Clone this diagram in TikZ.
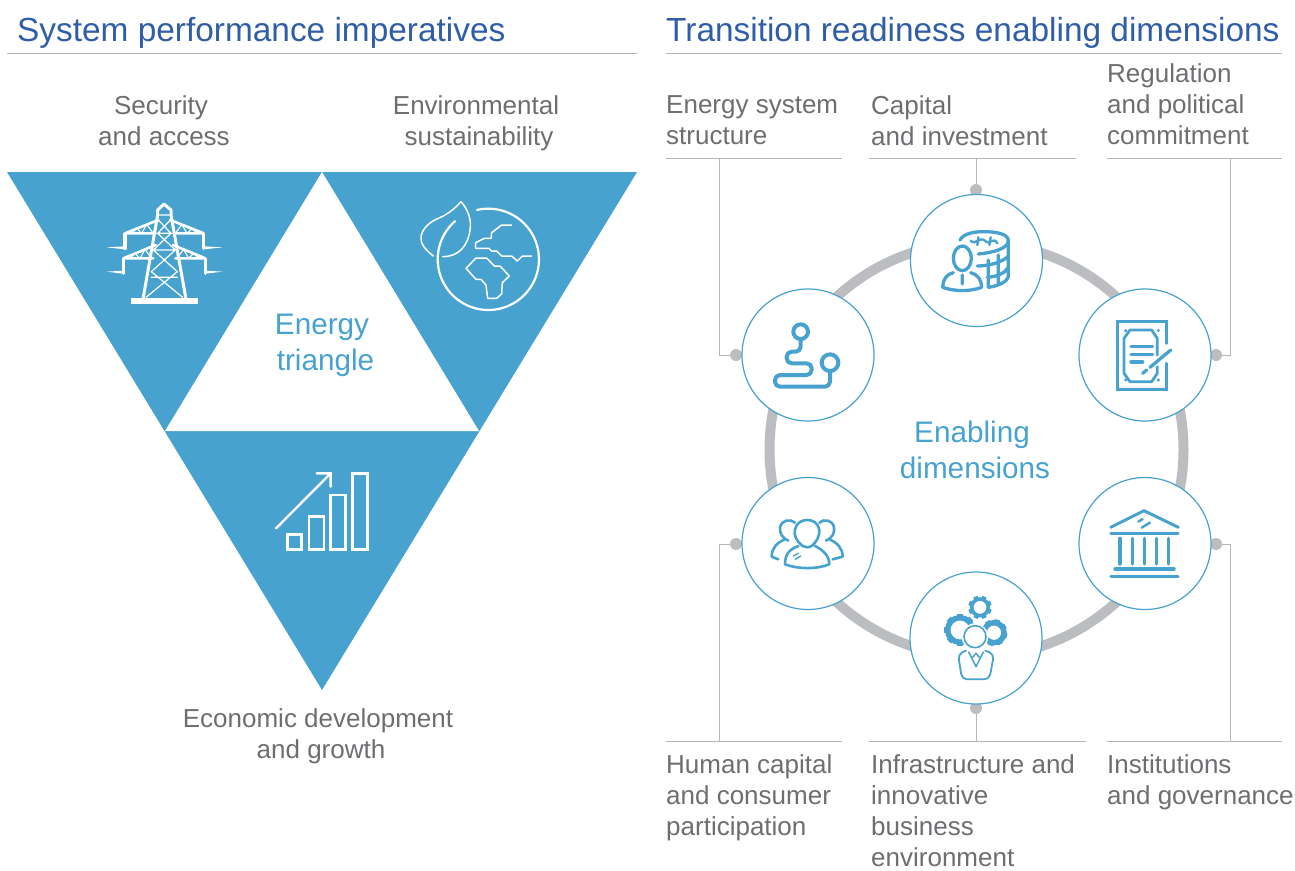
\documentclass[tikz,border=0pt]{standalone}
\usepackage{fontspec}
\setmainfont{Liberation Sans}
\usepackage{xcolor}
\usetikzlibrary{positioning, calc}

\definecolor{triblue}{HTML}{47A2D0}
\definecolor{headblue}{HTML}{2F5DA8}
\definecolor{textgray}{HTML}{6D6E71}
\definecolor{ringgray}{HTML}{BCBDC0}
\definecolor{rulegray}{HTML}{B5B6B8}

\tikzset{
  headline/.style={anchor=base west, inner sep=0pt, text=headblue, font=\fontsize{33.4}{38}\selectfont},
  lbl/.style={inner sep=0pt, align=left, anchor=north west, text=textgray, execute at begin node=\strut, font=\fontsize{26}{31.3}\selectfont},
  lblc/.style={lbl, align=center, anchor=north},
  midlbl/.style={lblc, text=triblue, font=\fontsize{29.7}{35.6}\selectfont},
  badge/.style={circle, draw=triblue, line width=1.2pt, fill=white, minimum size=132pt, inner sep=0pt},
  dotnode/.style={circle, fill=ringgray, minimum size=12pt, inner sep=0pt},
  leader/.style={draw=rulegray, line width=1pt},
  whiteicon/.style={draw=white, line join=round, line cap=round},
  blueicon/.style={draw=triblue, line width=3.3pt, line join=round, line cap=round},
}

\begin{document}
\begin{tikzpicture}[x=1pt, y=-1pt]
  \useasboundingbox (0,0) rectangle (1295,870);

  \node[headline] (headleft) at (17,41) {System performance imperatives};
  \node[headline] (headright) at (666,41) {Transition readiness enabling dimensions};
  \draw[leader] (7,53) -- (637,53);
  \draw[leader] (666,53) -- (1282,53);

  % triangle
  \fill[triblue] (7,172) -- (637,172) -- (322,690) -- cycle;
  \fill[white] (322,172) -- (479,431) -- (165,431) -- cycle;
  \node[midlbl] (triname) at (324,314) {Energy\hspace*{4pt}\\ \hspace*{3pt}triangle};
  \node[lblc] (seclbl) at (164,95) {Security\hspace*{6pt}\\ and access};
  \node[lblc] (envlbl) at (476,95) {Environmental\\ \hspace*{6pt}sustainability};
  \node[lblc] (ecolbl) at (318,708) {Economic development\\ \hspace*{6pt}and growth};

  % tower
  \begin{scope}[shift={(90,190)}, scale=1/3]
    \fill[white] (122,323) rectangle (325,342);
    \draw[whiteicon, line width=3pt] (160,322) -- (203,75) -- (203,60) -- (222,42) -- (243,60) -- (243,75) -- (287,322);
    \draw[whiteicon, line width=1.2pt] (203,75) -- (243,75) (205,90) -- (243,130) -- (190,180) -- (262,245) -- (168,322)
      (241,90) -- (203,130) -- (256,180) -- (184,245) -- (278,322) (184,262) -- (262,262) (195,180) -- (250,180) (200,130) -- (246,130);
    \draw[whiteicon, line width=2.6pt] (205,90) -- (105,130) (241,90) -- (341,130)
      (197,165) -- (100,205) (249,165) -- (346,205)
      (105,130) -- (195,130) (341,130) -- (251,130) (100,205) -- (190,205) (346,205) -- (256,205);
    \draw[whiteicon, line width=3.4pt] (105,132) -- (105,175) (341,132) -- (341,175) (100,207) -- (100,250) (346,207) -- (346,250);
    \draw[whiteicon, line width=1.1pt] (125,130) -- (140,115) -- (155,130) -- (170,103) -- (190,130)
      (321,130) -- (306,115) -- (291,130) -- (276,103) -- (256,130)
      (120,205) -- (135,190) -- (150,205) -- (165,178) -- (185,205)
      (326,205) -- (311,190) -- (296,205) -- (281,178) -- (261,205);
    \fill[white] (50,172) -- (105,169) -- (105,178) -- cycle (50,245) -- (100,242) -- (100,251) -- cycle
      (398,172) -- (341,169) -- (341,178) -- cycle (398,245) -- (346,242) -- (346,251) -- cycle;
  \end{scope}

  % globe
  \begin{scope}[shift={(405,190)}, scale=1/3]
    \draw[whiteicon, line width=2.2pt] plot[smooth, domain=-103:229, samples=70, variable=\x] ({250+152*cos(\x)}, {208+152*sin(\x)});
    \draw[whiteicon, line width=1.5pt] (85,198) .. controls (60,178) and (45,160) .. (48,140) .. controls (52,115) and (75,95) .. (100,85) .. controls (130,72) and (150,55) .. (168,35) .. controls (190,60) and (200,90) .. (195,120) .. controls (188,170) and (160,200) .. (113,200);
    \draw[whiteicon, line width=1.5pt] (320,105) -- (290,105) -- (260,128) -- (258,145) -- (238,145) -- (212,158) -- (212,175) -- (252,175) -- (260,183) -- (275,183) -- (290,198) -- (320,198) -- (337,213) -- (352,198) -- (380,198);
    \draw[whiteicon, line width=1.5pt] (183,235) -- (213,204) -- (245,204) -- (268,228) -- (285,228) -- (313,258) -- (292,278) -- (290,312) -- (275,325) -- (248,325) -- (243,285) -- (228,268) -- (213,268) -- cycle;
  \end{scope}

  % bars
  \begin{scope}[shift={(265,460)}, scale=1/3]
    \draw[whiteicon, line width=2.4pt, line cap=butt, line join=miter] (67,224) rectangle (110,268) (132,170) rectangle (177,268) (197,105) rectangle (242,268) (262,40) rectangle (307,268);
    \draw[whiteicon, line width=2.4pt, line join=miter] (33,205) -- (197,40) (155,40) -- (197,40) -- (197,80);
  \end{scope}

  % ring and leaders
  \draw[ringgray, line width=10pt] (976.5,449.5) circle (207pt);

  \node[dotnode] (dottop) at (976,190) {};
  \node[dotnode] (dotul) at (736,355) {};
  \node[dotnode] (dotur) at (1216,355) {};
  \node[dotnode] (dotll) at (736,544) {};
  \node[dotnode] (dotlr) at (1216,544) {};
  \node[dotnode] (dotbot) at (976,708) {};

  \coordinate (kneeul) at (719,158);
  \coordinate (kneeur) at (1230,158);
  \coordinate (kneell) at (719,741);
  \coordinate (kneelr) at (1230,741);
  \coordinate (kneetop) at (976,158);
  \coordinate (kneebot) at (976,741);

  \draw[leader] (666,158) -- (842,158) (869,158) -- (1076,158) (1107,158) -- (1282,158);
  \draw[leader] (666,741) -- (842,741) (869,741) -- (1086,741) (1107,741) -- (1282,741);
  \draw[leader] (kneeul) |- (dotul);
  \draw[leader] (kneeur) |- (dotur);
  \draw[leader] (kneell) |- (dotll);
  \draw[leader] (kneelr) |- (dotlr);
  \draw[leader] (kneetop) -- (dottop);
  \draw[leader] (kneebot) -- (dotbot);

  \node[badge] (captop) at (976.5,260.5) {};
  \node[badge] (sysul) at (808,355) {};
  \node[badge] (regur) at (1145,355) {};
  \node[badge] (humll) at (808,543.5) {};
  \node[badge] (inslr) at (1145,543.5) {};
  \node[badge] (infbot) at (976,638) {};

  \node[midlbl] (ringname) at (975,421) {Enabling\hspace*{6pt}\\ dimensions};

  \node[lbl] (syslbl) at (666,95) {Energy system\\ structure};
  \node[lbl] (caplbl) at (871,95) {Capital\\ and investment};
  \node[lbl] (reglbl) at (1107,63) {Regulation\\ and political\\ commitment};
  \node[lbl] (humlbl) at (666,754) {Human capital\\ and consumer\\ participation};
  \node[lbl] (inflbl) at (871,754) {Infrastructure and\\ innovative\\ business\\ environment};
  \node[lbl] (inslbl) at (1107,754) {Institutions\\ and governance};

  % coins
  \begin{scope}[shift={(900,180)}, scale=1/3]
    \draw[blueicon] (187,235) ellipse (27 and 37);
    \draw[blueicon] (160,278) .. controls (140,282) and (128,300) .. (128,322) .. controls (165,335) and (210,335) .. (245,322) .. controls (245,300) and (232,282) .. (212,278) (187,285) -- (187,312);
    \draw[blueicon] (180,180) .. controls (190,160) and (225,155) .. (250,155) .. controls (290,155) and (325,162) .. (325,182) .. controls (325,205) and (280,218) .. (235,222);
    \draw[blueicon, line width=2.4pt] (212,182) .. controls (225,198) and (240,168) .. (255,182) .. controls (268,198) and (280,168) .. (292,190) (235,172) -- (232,195) (272,172) -- (268,195);
    \draw[blueicon] (325,182) -- (325,290) .. controls (322,305) and (295,318) .. (265,322) (232,258) .. controls (270,258) and (310,245) .. (325,228) (262,292) .. controls (290,290) and (315,280) .. (325,262) (265,240) -- (265,322) (295,225) -- (295,312);
  \end{scope}

  % path
  \begin{scope}[shift={(730,280)}, scale=1/3]
    \draw[blueicon, line width=4pt] (212,155) circle (22) (300,248) circle (25);
    \draw[blueicon, line width=4pt, rounded corners=5pt] (212,177) -- (212,215) -- (170,215) -- (170,250) -- (245,250) -- (245,285) -- (135,285) -- (135,320) -- (300,320) -- (300,273);
  \end{scope}

  % document
  \begin{scope}[shift={(1070,280)}, scale=1/3]
    \draw[blueicon, line join=miter, line width=3pt] (290,190) -- (290,125) -- (143,125) -- (143,328) -- (290,328) -- (290,250);
    \draw[blueicon, line width=2.8pt] (262,225) -- (262,175) -- (245,150) -- (180,150) -- (162,175) -- (162,280) -- (180,305) -- (245,305) -- (262,280) -- (262,260);
    \fill[triblue] (167,152) circle (5) (265,152) circle (5) (167,300) circle (5) (265,300) circle (5);
    \draw[blueicon] (183,200) -- (248,200) (183,223) -- (248,223) (183,246) -- (218,246);
    \draw[blueicon] (240,262) -- (302,210) (218,280) -- (230,270);
  \end{scope}

  % people
  \begin{scope}[shift={(730,470)}, scale=1/3]
    \draw[blueicon, line width=2.6pt] (218,228) .. controls (200,215) and (190,195) .. (195,178) .. controls (200,158) and (215,150) .. (232,150) .. controls (250,150) and (265,160) .. (268,180) .. controls (270,198) and (258,218) .. (245,228) .. controls (235,233) and (226,233) .. (218,228);
    \draw[blueicon, line width=2.6pt] (205,228) .. controls (180,238) and (165,250) .. (165,283) .. controls (205,298) and (260,298) .. (298,283) .. controls (298,258) and (280,240) .. (255,228);
    \draw[blueicon, line width=1.4pt] (190,258) -- (205,250) (196,268) -- (212,258);
    \draw[blueicon, line width=2.6pt] (195,158) .. controls (180,145) and (155,150) .. (150,172) .. controls (148,190) and (158,205) .. (175,212) (165,208) .. controls (140,218) and (125,235) .. (125,260) -- (145,268);
    \draw[blueicon, line width=2.6pt] (268,158) .. controls (282,145) and (308,150) .. (312,172) .. controls (315,190) and (305,205) .. (288,212) (298,208) .. controls (322,218) and (338,235) .. (338,260) -- (308,268);
  \end{scope}

  % temple
  \begin{scope}[shift={(1070,470)}, scale=1/3]
    \draw[blueicon, line width=3pt] (122,172) -- (222,122) -- (325,172);
    \draw[blueicon, line width=3.4pt] (123,190) -- (324,190) (135,297) -- (312,297) (123,320) -- (324,320);
    \draw[blueicon, line width=3.4pt] \foreach \colx in {150,187,223,260,296} {(\colx,205) -- (\colx,282)};
    \draw[blueicon, line width=2.4pt] (205,155) -- (218,147) (215,173) -- (240,158);
  \end{scope}

  % gears and person
  \begin{scope}[shift={(900,570)}, scale=1/3]
    \draw[triblue, line width=3.6pt] (240,112) circle (25);
    \draw[triblue, line width=5.5pt] (180,180) circle (37) (282,188) circle (30);
    \foreach \ang in {0,45,...,315} {
      \draw[triblue, line width=4.6pt] (240,112) ++(\ang+22:27) -- ++(\ang+22:8);
      \draw[triblue, line width=6pt] (180,180) ++(\ang:38) -- ++(\ang:10);
      \draw[triblue, line width=5pt] (282,188) ++(\ang+15:30) -- ++(\ang+15:10);
    }
    \fill[white] (225,200) circle (40);
    \fill[white] (172,240) rectangle (285,330);
    \draw[blueicon, line width=1.6pt] (225,200) circle (33);
    \draw[blueicon, line width=1.8pt, rounded corners=5pt] (198,242) -- (174,252) -- (186,328) -- (268,328) -- (282,252) -- (256,242);
    \draw[blueicon, line width=1.5pt] (206,246) -- (228,290) -- (250,246) (218,262) -- (228,250) -- (238,262);
  \end{scope}
\end{tikzpicture}
\end{document}
